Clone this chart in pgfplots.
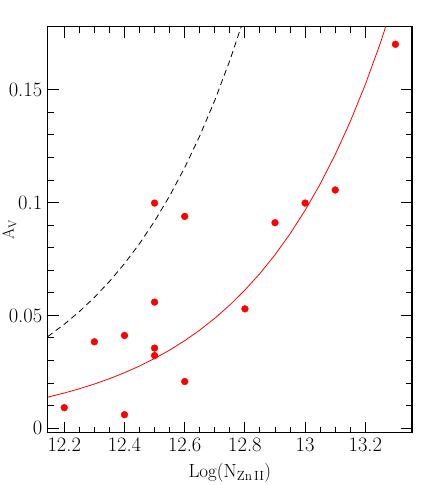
\documentclass[border=0pt]{standalone}
\usepackage{pgfplots}
\pgfplotsset{compat=1.18}

\begin{document}
\begin{tikzpicture}
\useasboundingbox (-47.7pt,-52.3pt) rectangle (388.3pt,432.7pt);
\begin{axis}[
  at={(0,0)}, anchor=south west,
  scale only axis,
  width=364.3pt, height=406pt,
  xmin=12.145, xmax=13.355,
  ymin=-0.002, ymax=0.178,
  xtick={12.2,12.4,12.6,12.8,13,13.2},
  xticklabels={12.2,12.4,12.6,12.8,13,13.2},
  ytick={0,0.05,0.1,0.15},
  yticklabels={0,0.05,0.1,0.15},
  /pgf/number format/assume math mode=true,
  minor x tick num=3,
  minor y tick num=4,
  tick align=inside,
  major tick length=11pt,
  minor tick length=6pt,
  axis line style={line width=1.2pt},
  every tick/.style={line width=1pt, black},
  tick label style={font=\fontsize{20.5}{24}\selectfont},
  xticklabel style={yshift=-2pt},
  yticklabel style={xshift=-2pt},
  xlabel={Log(N\textsubscript{Zn\,II})},
  ylabel={A\textsubscript{V}},
  xlabel style={font=\fontsize{19}{23}\selectfont, at={(axis description cs:0.5,0)}, anchor=north, yshift=-27pt},
  ylabel style={font=\fontsize{16}{19}\selectfont, at={(axis description cs:-0.105,0.5)}, anchor=center},
  clip=true,
]
% dashed curve
\addplot[black, dashed, line width=0.8pt, dash pattern=on 6pt off 4pt] coordinates {
(12.145,0.0406) (12.2,0.04607) (12.25,0.05168) (12.3,0.05797) (12.35,0.06503)
(12.4,0.07295) (12.45,0.08183) (12.5,0.09180) (12.55,0.10297) (12.6,0.11551)
(12.65,0.12957) (12.7,0.14535) (12.75,0.16305) (12.8,0.18291)
};
% red solid curve
\addplot[red, line width=0.8pt] coordinates {
(12.145,0.01375) (12.2,0.01559) (12.25,0.01747) (12.3,0.01958) (12.35,0.02194)
(12.4,0.02459) (12.45,0.02756) (12.5,0.03089) (12.55,0.03462) (12.6,0.03880)
(12.65,0.04349) (12.7,0.04874) (12.75,0.05462) (12.8,0.06122) (12.85,0.06861)
(12.9,0.07689) (12.95,0.08618) (13.0,0.09659) (13.05,0.10825) (13.1,0.12132)
(13.15,0.13597) (13.2,0.15239) (13.25,0.17079) (13.3,0.19141)
};
% data points
\addplot[only marks, mark=*, mark size=3.4pt, red, mark options={fill=red, draw=red}] coordinates {
(12.2,0.0091) (12.3,0.0383) (12.4,0.0411) (12.4,0.0060)
(12.5,0.0559) (12.5,0.0355) (12.5,0.0322) (12.5,0.0998)
(12.6,0.0207) (12.6,0.0939) (12.8,0.0529) (12.9,0.0911)
(13.0,0.0998) (13.1,0.1056) (13.3,0.1702)
};
\end{axis}
\end{tikzpicture}
\end{document}
